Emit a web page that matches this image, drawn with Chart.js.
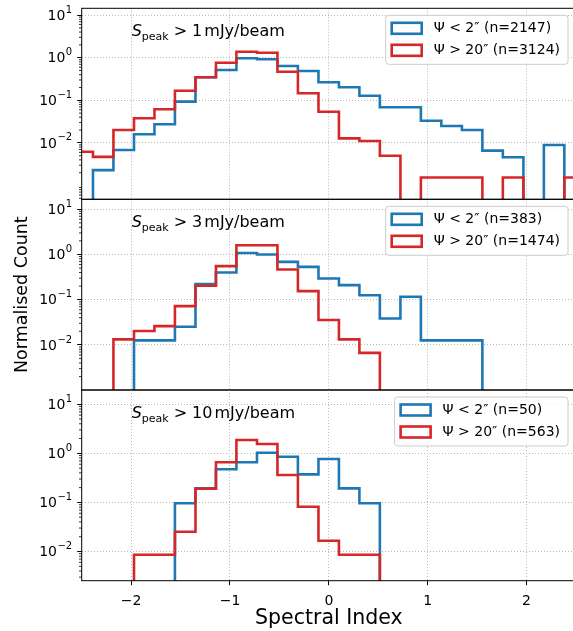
<!DOCTYPE html>
<html>
<head>
<meta charset="utf-8">
<script src="https://cdn.jsdelivr.net/npm/chart.js@4/dist/chart.umd.min.js"></script>
<style>
  html, body { margin: 0; padding: 0; background: #fff; }
  #wrap { position: relative; width: 573px; height: 631px; overflow: hidden; background: #fff; }
  #wrap canvas { position: absolute; left: 0; }
</style>
</head>
<body>
<div id="wrap">
  <canvas id="c1"></canvas>
  <canvas id="c2"></canvas>
  <canvas id="c3"></canvas>
</div>
<script>
// bin edges of the spectral index histograms
const binEdges = [-2.593, -2.386, -2.179, -1.971, -1.764, -1.557, -1.349, -1.142, -0.935, -0.727,
  -0.520, -0.313, -0.105, 0.102, 0.309, 0.516, 0.724, 0.931, 1.138, 1.346,
  1.553, 1.760, 1.968, 2.175, 2.382, 2.590];

// normalised counts per bin (0 = empty bin)
const blue1 = [0, 0.0023, 0.0068, 0.0159, 0.0273, 0.093, 0.347, 0.514, 0.968, 0.917, 0.638, 0.488, 0.265,
  0.202, 0.128, 0.0685, 0.0685, 0.0332, 0.0249, 0.0201, 0.0066, 0.0046, 0, 0.0089, 0];
const red1 = [0.0062, 0.0047, 0.0201, 0.0378, 0.0615, 0.168, 0.347, 0.763, 1.38, 1.31, 0.469, 0.146, 0.054,
  0.0128, 0.0111, 0.005, 0, 0.00154, 0.00154, 0.00154, 0, 0.00154, 0, 0, 0.00154];

const blue2 = [0, 0, 0, 0.0126, 0.0126, 0.0252, 0.221, 0.40, 1.08, 1.0, 0.687, 0.532, 0.295,
  0.21, 0.126, 0.0386, 0.116, 0.0126, 0.0126, 0.0126, 0, 0, 0, 0, 0];
const red2 = [0, 0, 0.0133, 0.0203, 0.0261, 0.0723, 0.203, 0.552, 1.60, 1.60, 0.467, 0.155, 0.0355,
  0.0133, 0.0067, 0, 0, 0, 0, 0, 0, 0, 0, 0, 0];

const blue3 = [0, 0, 0, 0, 0, 0.0963, 0.193, 0.472, 0.656, 1.03, 0.853, 0.373, 0.766,
  0.193, 0.0963, 0, 0, 0, 0, 0, 0, 0, 0, 0, 0];
const red3 = [0, 0, 0, 0.0086, 0.0086, 0.0253, 0.19, 0.656, 1.87, 1.55, 0.361, 0.0818, 0.0166,
  0.0086, 0.0086, 0, 0, 0, 0, 0, 0, 0, 0, 0, 0];

const fluxCuts = ["1", "3", "10"];
const nBlue = [2147, 383, 50];
const nRed = [3124, 1474, 563];
const yMins = [0.000474, 0.00101, 0.00254];
const yMaxs = [14.45, 16.6, 19.5];

const xTicks = [-2, -1, 0, 1, 2];
const yTicks = [0.01, 0.1, 1, 10];
const yTickExps = ["\u22122", "\u22121", "0", "1"];

const BLUE = "#1f77b4";
const RED = "#d62728";
const GRID = "#b0b0b0";
const FONT = "DejaVu Sans";
const FLOOR = 1e-6;

// layout of the three stacked canvases
const panels = [
  { id: "c1", top: 0, height: 205, padTop: 8.3, axisH: 5.7, blue: blue1, red: red1 },
  { id: "c2", top: 194, height: 201, padTop: 5.3, axisH: 5, blue: blue2, red: red2 },
  { id: "c3", top: 385, height: 246, padTop: 5, axisH: 50.3, blue: blue3, red: red3 },
];

function stepOutline(vals) {
  const pts = [{ x: binEdges[0], y: FLOOR }];
  vals.forEach((v, i) => {
    const y = v > 0 ? v : FLOOR;
    pts.push({ x: binEdges[i], y: y }, { x: binEdges[i + 1], y: y });
  });
  pts.push({ x: binEdges[binEdges.length - 1], y: FLOOR });
  return pts;
}

function fmtX(v) {
  return v < 0 ? "\u2212" + Math.abs(v) : String(v);
}

const panelDecor = {
  id: "panelDecor",
  afterDatasetsDraw(chart) {
    const ctx = chart.ctx;
    const a = chart.chartArea;
    const ys = chart.scales.y;
    ctx.save();
    // minor log ticks
    ctx.strokeStyle = "#000";
    ctx.lineWidth = 0.8;
    const d0 = Math.floor(Math.log10(ys.min));
    const d1 = Math.ceil(Math.log10(ys.max));
    for (let d = d0; d <= d1; d++) {
      for (let m = 2; m <= 9; m++) {
        const v = m * Math.pow(10, d);
        if (v < ys.min || v > ys.max) continue;
        const y = ys.getPixelForValue(v);
        ctx.beginPath();
        ctx.moveTo(a.left - 2.7, y);
        ctx.lineTo(a.left, y);
        ctx.stroke();
      }
    }
    // frame
    ctx.lineWidth = 1;
    ctx.strokeRect(a.left, a.top, a.right - a.left, a.bottom - a.top);
    ctx.restore();
  },
  afterDraw(chart, args, opts) {
    const ctx = chart.ctx;
    const a = chart.chartArea;
    const ys = chart.scales.y;
    ctx.save();
    ctx.fillStyle = "#000";

    // y tick labels as 10 with a superscript exponent
    ctx.textBaseline = "middle";
    yTicks.forEach((v, i) => {
      const y = ys.getPixelForValue(v);
      ctx.font = "10px '" + FONT + "'";
      ctx.textAlign = "right";
      const xEnd = a.left - 9.5;
      const supW = ctx.measureText(yTickExps[i]).width;
      ctx.fillText(yTickExps[i], xEnd, y - 5);
      ctx.font = "14px '" + FONT + "'";
      ctx.fillText("10", xEnd - supW - 0.5, y + 1);
    });
    ctx.textAlign = "left";
    ctx.textBaseline = "alphabetic";

    // S_peak annotation
    let x = a.left + 50;
    const base = a.top + 28;
    ctx.font = "italic 16px '" + FONT + "'";
    ctx.fillText("S", x, base);
    x += ctx.measureText("S").width;
    ctx.font = "11px '" + FONT + "'";
    ctx.fillText("peak", x, base + 4);
    x += ctx.measureText("peak").width + 5;
    ctx.font = "16px '" + FONT + "'";
    ctx.fillText(">", x, base);
    x += ctx.measureText(">").width + 5;
    ctx.fillText(opts.flux, x, base);
    x += ctx.measureText(opts.flux).width + 2;
    ctx.fillText("mJy/beam", x, base);

    // legend
    ctx.font = "14px '" + FONT + "'";
    const entries = opts.entries;
    const textW = Math.max(...entries.map(e => ctx.measureText(e.label).width));
    const w = 5 + 31 + 12 + textW + 8;
    const h = 49;
    const right = a.right - 8;
    const left = right - w;
    const top = a.top + 7;
    ctx.fillStyle = "rgba(255,255,255,0.8)";
    ctx.strokeStyle = "#cccccc";
    ctx.lineWidth = 1;
    ctx.beginPath();
    ctx.roundRect(left, top, w, h, 3);
    ctx.fill();
    ctx.stroke();
    entries.forEach((e, i) => {
      const cy = top + 13 + i * 22;
      ctx.strokeStyle = e.color;
      ctx.lineWidth = 2.6;
      ctx.strokeRect(left + 6, cy - 5.5, 30, 11);
      ctx.fillStyle = "#000";
      ctx.textBaseline = "middle";
      ctx.fillText(e.label, left + 48, cy);
    });
    ctx.restore();
  }
};

panels.forEach((p, idx) => {
  const cv = document.getElementById(p.id);
  cv.width = 580;
  cv.height = p.height;
  cv.style.top = p.top + "px";
  cv.style.width = "580px";
  cv.style.height = p.height + "px";
  const last = idx === panels.length - 1;
  const blueLabel = "\u03A8 < 2\u2033 (n=" + nBlue[idx] + ")";
  const redLabel = "\u03A8 > 20\u2033 (n=" + nRed[idx] + ")";

  new Chart(cv.getContext("2d"), {
    type: "line",
    data: {
      datasets: [
        { label: blueLabel, data: stepOutline(p.blue), borderColor: BLUE, borderWidth: 2.6,
          pointRadius: 0, fill: false, tension: 0, order: 1, borderJoinStyle: "miter" },
        { label: redLabel, data: stepOutline(p.red), borderColor: RED, borderWidth: 2.6,
          pointRadius: 0, fill: false, tension: 0, order: 0, borderJoinStyle: "miter" },
      ],
    },
    options: {
      responsive: false,
      animation: false,
      devicePixelRatio: 1,
      layout: { padding: { top: p.padTop, right: 4, left: 0, bottom: 0 } },
      plugins: {
        legend: { display: false },
        tooltip: { enabled: false },
        panelDecor: {
          flux: fluxCuts[idx],
          entries: [{ label: blueLabel, color: BLUE }, { label: redLabel, color: RED }],
        },
      },
      scales: {
        x: {
          type: "linear",
          min: -2.5,
          max: 2.5,
          afterBuildTicks: (s) => { s.ticks = xTicks.map(v => ({ value: v })); },
          afterFit: (s) => { s.height = p.axisH; s.paddingLeft = 0; s.paddingRight = 0; },
          grid: { color: GRID, lineWidth: 0.9, drawTicks: last, tickLength: 4.5, tickColor: "#000", tickWidth: 1 },
          border: { display: false, dash: [1, 2] },
          ticks: { display: last, color: "#000", font: { family: FONT, size: 14 }, padding: 8, maxRotation: 0,
            callback: (v) => fmtX(v) },
          title: { display: last, text: "Spectral Index", color: "#000", font: { family: FONT, size: 20.5 },
            padding: { top: 0, bottom: 0 } },
        },
        y: {
          type: "logarithmic",
          min: yMins[idx],
          max: yMaxs[idx],
          afterBuildTicks: (s) => { s.ticks = yTicks.map(v => ({ value: v })); },
          afterFit: (s) => { s.width = 81.7; s.paddingTop = 0; s.paddingBottom = 0; },
          grid: { color: GRID, lineWidth: 0.9, tickLength: 4.5, tickColor: "#000", tickWidth: 1 },
          border: { display: false, dash: [1, 2] },
          ticks: { display: false },
          title: { display: idx === 1, text: "Normalised Count", color: "#000",
            font: { family: FONT, size: 17.5 }, padding: { top: 12, bottom: 0 } },
        },
      },
    },
    plugins: [panelDecor],
  });
});
</script>
</body>
</html>
